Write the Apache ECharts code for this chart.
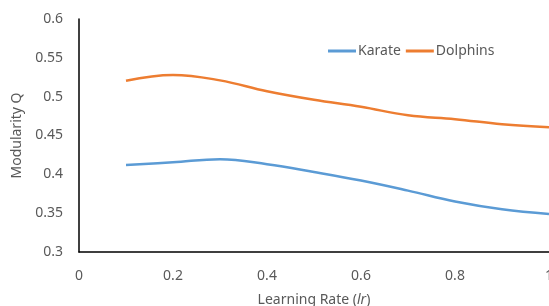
<!DOCTYPE html>
<html>
<head>
<meta charset="utf-8">
<script src="https://cdn.jsdelivr.net/npm/echarts@6/dist/echarts.min.js"></script>
<style>
html, body { margin: 0; padding: 0; background: #fff; }
#chart { width: 549px; height: 306px; }
</style>
</head>
<body>
<div id="chart"></div>
<script>
// learning rate values
const rates = [0.1, 0.2, 0.3, 0.4, 0.5, 0.6, 0.7, 0.8, 0.9, 1.0]
// modularity per data set
const karate = [0.412, 0.4155, 0.4195, 0.413, 0.403, 0.392, 0.379, 0.365, 0.355, 0.349]
const dolphins = [0.5205, 0.528, 0.521, 0.507, 0.496, 0.487, 0.476, 0.471, 0.4645, 0.4605]

const textColor = '#595959'
const font = 'Noto Sans'

function pairs (ys) {
  return rates.map((x, i) => [x, ys[i]])
}

const chart = echarts.init(document.getElementById('chart'))
const option = {
  animation: false,
  textStyle: { fontFamily: font },
  grid: { left: 79, right: 0, top: 19, bottom: 54, outerBoundsMode: 'none', containLabel: false },
  legend: {
    left: 323,
    top: 39,
    itemWidth: 28,
    itemHeight: 3,
    itemGap: 5,
    icon: 'rect',
    textStyle: { color: textColor, fontSize: 14, fontFamily: font, padding: [0, 0, 0, -3] },
    data: ['Karate', 'Dolphins']
  },
  xAxis: {
    type: 'value',
    min: 0,
    max: 1,
    interval: 0.2,
    name: 'Learning Rate ({i|lr})',
    nameLocation: 'middle',
    nameGap: 41,
    nameTextStyle: {
      color: textColor,
      fontSize: 14,
      fontFamily: font,
      verticalAlign: 'top',
      rich: { i: { fontStyle: 'italic', fontSize: 14, color: textColor, fontFamily: font } }
    },
    axisLine: { show: true, lineStyle: { color: '#000', width: 1.5 } },
    axisTick: { show: false },
    splitLine: { show: false },
    axisLabel: { color: textColor, fontSize: 14, margin: 17 }
  },
  yAxis: {
    type: 'value',
    min: 0.3,
    max: 0.6,
    interval: 0.05,
    name: 'Modularity Q',
    nameLocation: 'middle',
    nameGap: 54,
    nameTextStyle: { color: textColor, fontSize: 14, fontFamily: font },
    axisLine: { show: true, lineStyle: { color: '#000', width: 1.5 } },
    axisTick: { show: false },
    splitLine: { show: false },
    axisLabel: {
      color: textColor,
      fontSize: 14,
      margin: 16,
      formatter: v => String(+v.toFixed(2))
    }
  },
  series: [
    {
      name: 'Karate',
      type: 'line',
      data: pairs(karate),
      smooth: 0.4,
      showSymbol: false,
      symbol: 'none',
      lineStyle: { color: '#5B9BD5', width: 2.5 },
      itemStyle: { color: '#5B9BD5' }
    },
    {
      name: 'Dolphins',
      type: 'line',
      data: pairs(dolphins),
      smooth: 0.4,
      showSymbol: false,
      symbol: 'none',
      lineStyle: { color: '#ED7D31', width: 2.5 },
      itemStyle: { color: '#ED7D31' }
    }
  ]
}
chart.setOption(option)
</script>
</body>
</html>
